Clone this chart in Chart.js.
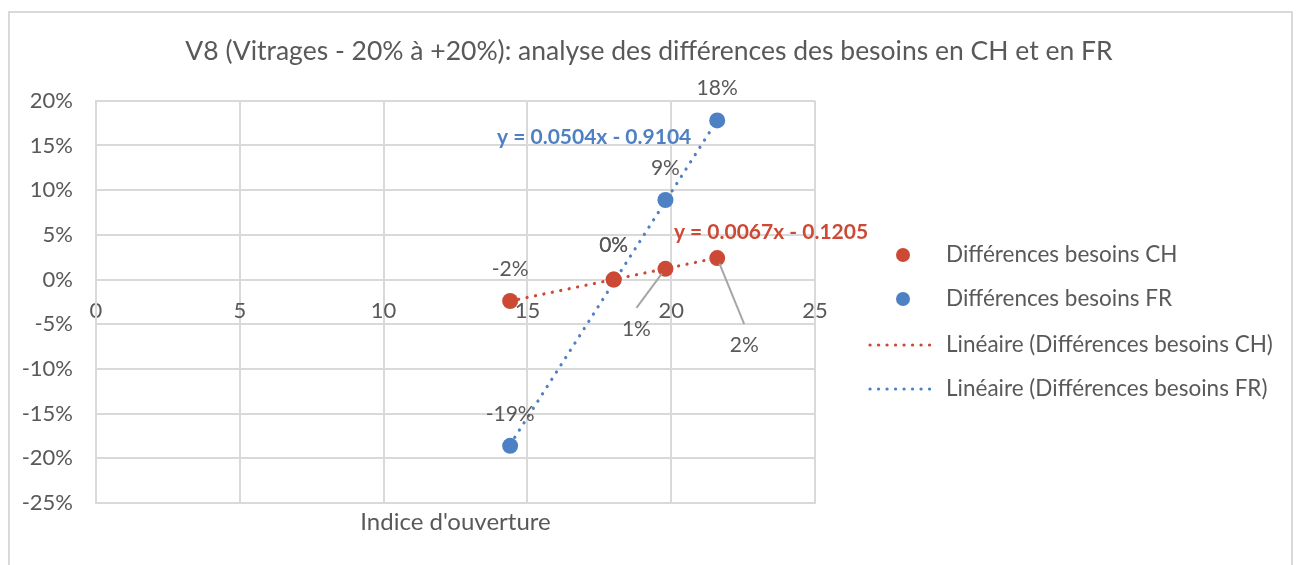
<!DOCTYPE html>
<html>
<head>
<meta charset="utf-8">
<script src="https://cdn.jsdelivr.net/npm/chart.js@4.4.0/dist/chart.umd.min.js"></script>
<style>
  html, body { margin: 0; padding: 0; background: #fff; }
  #chart { display: block; }
</style>
</head>
<body>
<canvas id="chart" width="1298" height="565"></canvas>
<script>
// data
const seriesNames = ['Différences besoins CH', 'Différences besoins FR'];
const indiceOuverture = [14.4, 18, 19.8, 21.6];
const diffCH = [-0.024, 0, 0.012, 0.024];
const diffFR = [-0.186, 0, 0.089, 0.178];
// trendline equations shown on the chart
const trendSlopes = [0.0067, 0.0504];
const trendIntercepts = [-0.1205, -0.9104];
const xTitle = "Indice d'ouverture";
const chartTitle = 'V8 (Vitrages - 20% à +20%): analyse des différences des besoins en CH et en FR';

const RED = '#CC4A35';
const BLUE = '#4E80C4';
const TEXT = '#595959';
const GRID = '#D9D9D9';
const FONT = 'Lato, "Open Sans", sans-serif';

// label placement (pixels, relative to the point)
const labelOffsets = [
    [[0, -32], [0, -34], [-29, 60], [27, 87]],
    [[0, -32], [0, -34], [0, -32], [0, -32]]
];
const leaderLines = [[false, false, true, true], [false, false, false, false]];
// where the equations sit, in data units
const eqLabelAt = [[23.47, 0.0535], [17.32, 0.159]];

const pts = (ys) => indiceOuverture.map((x, i) => ({ x: x, y: ys[i] }));
const xFirst = Math.min(...indiceOuverture);
const xLast = Math.max(...indiceOuverture);
const trend = (k) => [
    { x: xFirst, y: trendSlopes[k] * xFirst + trendIntercepts[k] },
    { x: xLast, y: trendSlopes[k] * xLast + trendIntercepts[k] }
];
const pct = (v) => Math.round(v * 100) + '%';
const eqText = (k) => 'y = ' + trendSlopes[k].toFixed(4) + 'x - ' + Math.abs(trendIntercepts[k]).toFixed(4);

const extras = {
    id: 'extras',
    beforeDraw(chart) {
        const ctx = chart.ctx;
        ctx.save();
        ctx.strokeStyle = '#D9D9D9';
        ctx.lineWidth = 2;
        ctx.strokeRect(9, 12, 1283, 600);
        ctx.restore();
    },
    afterDatasetsDraw(chart) {
        const ctx = chart.ctx;
        ctx.save();
        // data labels
        for (let s = 0; s < 2; s++) {
            const meta = chart.getDatasetMeta(s);
            const vals = chart.data.datasets[s].data;
            meta.data.forEach((el, i) => {
                const [dx, dy] = labelOffsets[s][i];
                const lx = el.x + dx, ly = el.y + dy;
                if (leaderLines[s][i]) {
                    const ex = lx, ey = ly - 21;
                    const len = Math.hypot(ex - el.x, ey - el.y);
                    ctx.strokeStyle = '#A6A6A6';
                    ctx.lineWidth = 2;
                    ctx.beginPath();
                    ctx.moveTo(el.x + (ex - el.x) / len * 6, el.y + (ey - el.y) / len * 6);
                    ctx.lineTo(ex, ey);
                    ctx.stroke();
                }
                ctx.fillStyle = TEXT;
                ctx.font = '21px ' + FONT;
                ctx.textAlign = 'center';
                ctx.textBaseline = 'middle';
                ctx.fillText(pct(vals[i].y), lx, ly);
            });
        }
        // equations
        const xs = chart.scales.x, ys = chart.scales.y;
        [RED, BLUE].forEach((c, k) => {
            ctx.fillStyle = c;
            ctx.font = 'bold 21px ' + FONT;
            ctx.textAlign = 'center';
            ctx.textBaseline = 'middle';
            ctx.fillText(eqText(k), xs.getPixelForValue(eqLabelAt[k][0]), ys.getPixelForValue(eqLabelAt[k][1]));
        });
        ctx.restore();
    },
    afterDraw(chart) {
        // legend
        const ctx = chart.ctx;
        ctx.save();
        const rows = [255, 299, 345, 389];
        const items = [
            { text: seriesNames[0], color: RED, dot: true },
            { text: seriesNames[1], color: BLUE, dot: true },
            { text: 'Linéaire (' + seriesNames[0] + ')', color: RED, dot: false },
            { text: 'Linéaire (' + seriesNames[1] + ')', color: BLUE, dot: false }
        ];
        items.forEach((it, i) => {
            const y = rows[i];
            if (it.dot) {
                ctx.fillStyle = it.color;
                ctx.beginPath();
                ctx.arc(903, y, 7, 0, Math.PI * 2);
                ctx.fill();
            } else {
                ctx.strokeStyle = it.color;
                ctx.lineWidth = 3.2;
                ctx.lineCap = 'round';
                ctx.setLineDash([0.1, 8.4]);
                ctx.beginPath();
                ctx.moveTo(870, y);
                ctx.lineTo(936, y);
                ctx.stroke();
                ctx.setLineDash([]);
            }
            ctx.fillStyle = TEXT;
            ctx.font = '22.5px ' + FONT;
            ctx.textAlign = 'left';
            ctx.textBaseline = 'middle';
            ctx.fillText(it.text, 946, y);
        });
        ctx.restore();
    }
};

const ctx = document.getElementById('chart').getContext('2d');
new Chart(ctx, {
    type: 'scatter',
    data: {
        datasets: [
            { label: seriesNames[0], data: pts(diffCH), backgroundColor: RED, borderColor: RED, pointRadius: 8, borderWidth: 0, order: 1 },
            { label: seriesNames[1], data: pts(diffFR), backgroundColor: BLUE, borderColor: BLUE, pointRadius: 8, borderWidth: 0, order: 1 },
            { label: 'Linéaire (' + seriesNames[0] + ')', data: trend(0), showLine: true, pointRadius: 0,
              borderColor: RED, borderWidth: 3.2, borderDash: [0.1, 8.5], borderCapStyle: 'round', order: 2 },
            { label: 'Linéaire (' + seriesNames[1] + ')', data: trend(1), showLine: true, pointRadius: 0,
              borderColor: BLUE, borderWidth: 3.2, borderDash: [0.1, 8.5], borderCapStyle: 'round', order: 2 }
        ]
    },
    options: {
        responsive: false,
        animation: false,
        events: [],
        layout: { padding: 0 },
        plugins: {
            legend: { display: false },
            tooltip: { enabled: false },
            title: {
                display: true,
                text: chartTitle,
                color: TEXT,
                font: { family: FONT, size: 26.5, weight: 'normal', lineHeight: 1.2 },
                padding: { top: 36, bottom: 33 }
            }
        },
        scales: {
            x: {
                type: 'linear',
                position: 'bottom',
                min: 0, max: 25,
                ticks: { stepSize: 5, display: false },
                grid: { color: GRID, lineWidth: 2, drawTicks: false },
                border: { color: GRID, width: 2 },
                title: { display: true, text: xTitle, color: TEXT,
                         font: { family: FONT, size: 24, lineHeight: 1.2 }, padding: { top: 0, bottom: 28 } },
                afterFit: (s) => { s.height = 62; }
            },
            xLabels: {
                type: 'linear',
                axis: 'x',
                position: { y: 0 },
                min: 0, max: 25,
                ticks: { stepSize: 5, color: TEXT, font: { family: FONT, size: 22 }, padding: 18 },
                grid: { display: false, drawTicks: false },
                border: { display: false }
            },
            y: {
                type: 'linear',
                position: 'left',
                min: -0.25, max: 0.2,
                ticks: { stepSize: 0.05, color: TEXT, font: { family: FONT, size: 22 }, padding: 23,
                         callback: (v) => pct(v) },
                grid: { color: GRID, lineWidth: 2, drawTicks: false },
                border: { color: GRID, width: 2 },
                afterFit: (s) => { s.width = 96; }
            },
            legendSpace: {
                type: 'linear',
                position: 'right',
                display: true,
                ticks: { display: false },
                grid: { display: false, drawTicks: false },
                border: { display: false },
                afterFit: (s) => { s.width = 483; }
            }
        }
    },
    plugins: [extras]
});
</script>
</body>
</html>
